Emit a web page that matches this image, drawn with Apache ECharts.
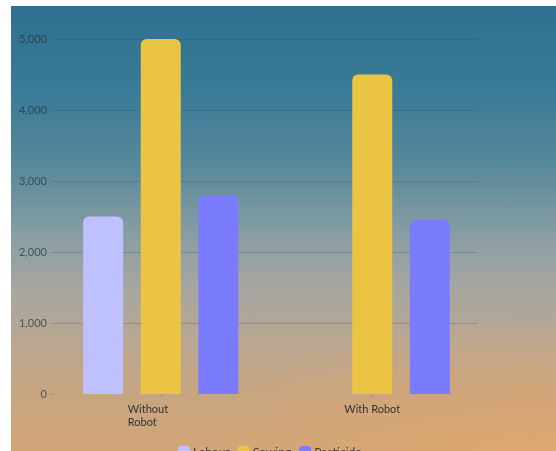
<!DOCTYPE html>
<html>
<head>
<meta charset="utf-8">
<script src="https://cdn.jsdelivr.net/npm/echarts@6/dist/echarts.min.js"></script>
<style>
html,body{margin:0;padding:0;background:#fff;width:556px;height:451px;overflow:hidden;}
#bg{position:absolute;left:11px;top:6px;width:545px;height:445px;
background:
radial-gradient(ellipse 60% 30% at 95% 100%, rgba(230,168,105,0.6), rgba(230,168,105,0) 100%),
linear-gradient(to bottom,#2f7090 0%,#3a7b96 20%,#58899b 36%,#8a9ea3 52%,#a6a6a1 63%,#b7a793 74%,#c6a582 86%,#d2a678 100%);}
#chart{position:absolute;left:0;top:0;width:556px;height:451px;}
</style>
</head>
<body>
<div id="bg"></div>
<div id="chart"></div>
<script>
const categories = ['Without Robot', 'With Robot'];
const labour = [2500, 0];
const sowing = [5000, 4500];
const pesticide = [2800, 2450];
const yTicks = [0, 1000, 2000, 3000, 4000, 5000];

const chart = echarts.init(document.getElementById('chart'));
const font = 'Lato, "Open Sans", sans-serif';
const gridC = 'rgba(50,60,70,0.25)';
const barStyle = (c) => ({ color: c, borderRadius: [6, 6, 0, 0] });
chart.setOption({
  animation: false,
  backgroundColor: 'transparent',
  textStyle: { fontFamily: font },
  grid: { left: 55, right: 78, top: 39, bottom: 57, containLabel: false },
  legend: {
    data: ['Labour', 'Sowing', 'Pesticide'],
    left: 173, top: 441,
    itemWidth: 12, itemHeight: 12, itemGap: 8,
    icon: 'roundRect',
    textStyle: { fontFamily: font, fontSize: 12, color: '#3a3a3a', padding: [0, 0, 0, -2] }
  },
  xAxis: {
    type: 'category',
    data: categories,
    axisLine: { show: false },
    axisTick: { show: true, alignWithLabel: true, length: 3, lineStyle: { color: gridC } },
    axisLabel: {
      margin: 9,
      fontFamily: font, fontSize: 11, color: '#333', lineHeight: 13,
      width: 66,
      formatter: function (v) {
        if (v === 'Without Robot') return '{l|Without}\n{l|Robot}';
        return v;
      },
      rich: { l: { align: 'left', fontFamily: font, fontSize: 11, color: '#333', lineHeight: 13 } }
    }
  },
  yAxis: {
    type: 'value',
    min: 0, max: 5000, interval: 1000,
    axisLine: { show: false },
    axisTick: { show: true, length: 4, lineStyle: { color: gridC } },
    axisLabel: {
      margin: 8, fontFamily: font, fontSize: 11, color: 'rgba(30,45,60,0.7)',
      formatter: function (v) { return yTicks.indexOf(v) >= 0 ? v.toLocaleString('en-US') : ''; }
    },
    splitLine: { lineStyle: { color: ['transparent', gridC, gridC, gridC, gridC, gridC], width: 1 } }
  },
  series: [
    { name: 'Labour', type: 'bar', data: labour, barWidth: 40, barGap: '44%', itemStyle: barStyle('#bfc0ff') },
    { name: 'Sowing', type: 'bar', data: sowing, barWidth: 40, barGap: '44%', itemStyle: barStyle('#ecc444') },
    { name: 'Pesticide', type: 'bar', data: pesticide, barWidth: 40, barGap: '44%', itemStyle: barStyle('#7b7bfd') }
  ]
});
</script>
</body>
</html>
